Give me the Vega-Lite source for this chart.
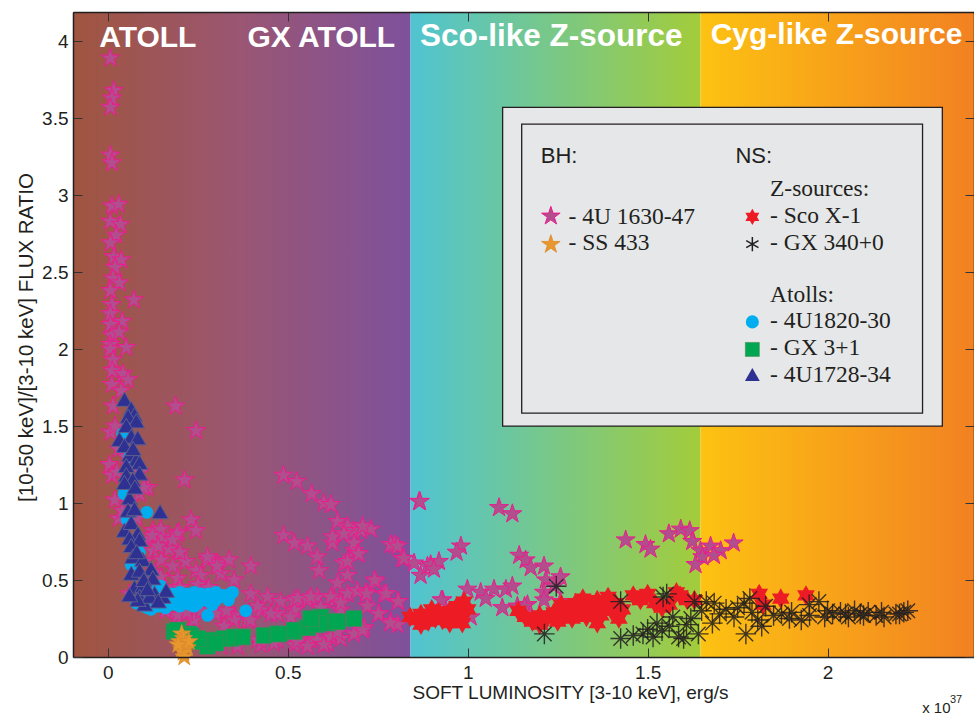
{
 "$schema": "https://vega.github.io/schema/vega-lite/v6.json",
 "width": 901, "height": 645,
 "autosize": "none",
 "padding": {"left": 73, "top": 12, "right": 0, "bottom": 60},
 "background": "white",
 "config": {"view": {"stroke": null}, "font": "Liberation Sans"},
 "datasets": {
  "band1": [{"x": -0.097, "x2": 0.841, "y": 0, "y2": 4.19}],
  "band2": [{"x": 0.841, "x2": 1.647, "y": 0, "y2": 4.19}],
  "band3": [{"x": 1.647, "x2": 2.407, "y": 0, "y2": 4.19}],
  "bandlab": [{"x": 0.111, "y": 3.961, "label": "ATOLL"}, {"x": 0.593, "y": 3.961, "label": "GX ATOLL"}, {"x": 2.025, "y": 3.985, "label": "Cyg-like Z-source"}],
  "bandlab2": [{"x": 1.232, "y": 3.97, "label": "Sco-like Z-source"}],
  "legout": [{"x": 1.097, "x2": 2.319, "y": 1.5, "y2": 3.571}],
  "legin": [{"x": 1.15, "x2": 2.264, "y": 1.584, "y2": 3.461}],
  "legsans": [{"x": 1.203, "y": 3.21, "label": "BH:"}, {"x": 1.744, "y": 3.21, "label": "NS:"}],
  "legserif": [{"x": 1.84, "y": 2.994, "label": "Z-sources:"}, {"x": 1.84, "y": 2.82, "label": "- Sco X-1"}, {"x": 1.84, "y": 2.647, "label": "- GX 340+0"}, {"x": 1.84, "y": 2.307, "label": "Atolls:"}, {"x": 1.84, "y": 2.134, "label": "- 4U1820-30"}, {"x": 1.84, "y": 1.961, "label": "- GX 3+1"}, {"x": 1.84, "y": 1.788, "label": "- 4U1728-34"}, {"x": 1.28, "y": 2.816, "label": "- 4U 1630-47"}, {"x": 1.28, "y": 2.643, "label": "- SS 433"}],
  "leg1630": [{"x": 1.231, "y": 2.864}],
  "leg433": [{"x": 1.231, "y": 2.68}],
  "legsco": [{"x": 1.791, "y": 2.859}],
  "leggx340": [{"x": 1.791, "y": 2.682}],
  "leg1820": [{"x": 1.791, "y": 2.177}],
  "leggx3": [{"x": 1.791, "y": 1.998}],
  "leg1728": [{"x": 1.791, "y": 1.831}],
  "x10": [{"x": 2.263, "y": -0.364, "label": "x 10"}],
  "e37": [{"x": 2.34, "y": -0.299, "label": "37"}],
  "s1630": [
   {"x":0.007,"y":3.89},{"x":0.016,"y":3.68},{"x":0.011,"y":3.63},{"x":0.007,"y":3.57},{"x":0.007,"y":3.26},{"x":0.011,"y":3.21},{"x":0.011,"y":2.93},{"x":0.03,"y":2.94},{"x":0.007,"y":2.83},{"x":0.035,"y":2.81},{"x":0.023,"y":2.74},{"x":0.007,"y":2.69},{"x":0.016,"y":2.6},{"x":0.037,"y":2.58},{"x":0.02,"y":2.53},{"x":0.014,"y":2.46},{"x":0.032,"y":2.43},{"x":0.007,"y":2.38},{"x":0.072,"y":2.32},{"x":0.011,"y":2.29},{"x":0.007,"y":2.23},{"x":0.04,"y":2.18},{"x":0.007,"y":2.16},{"x":0.011,"y":2.09},{"x":0.031,"y":2.11},{"x":0.007,"y":2.03},{"x":0.051,"y":2.01},{"x":0.007,"y":2.0},{"x":0.014,"y":1.93},{"x":0.012,"y":1.86},{"x":0.042,"y":1.84},{"x":0.056,"y":1.8},{"x":0.011,"y":1.77},{"x":0.037,"y":1.73},{"x":0.014,"y":1.63},{"x":0.188,"y":1.63},{"x":0.245,"y":1.47},{"x":0.007,"y":1.46},{"x":0.004,"y":1.25},{"x":0.011,"y":1.18},{"x":0.213,"y":1.15},{"x":0.111,"y":1.1},{"x":0.088,"y":1.06},{"x":0.019,"y":1.02},
   {"x":0.02,"y":1.5},{"x":0.03,"y":1.35},{"x":0.025,"y":1.2},{"x":0.05,"y":1.3},{"x":0.09,"y":1.2},{"x":0.1,"y":1.1},{"x":0.06,"y":1.0},{"x":0.03,"y":0.9},{"x":0.04,"y":0.95},{"x":0.08,"y":0.9},
   {"x":0.231,"y":0.89},{"x":0.245,"y":0.82},{"x":0.197,"y":0.81},{"x":0.125,"y":0.82},{"x":0.153,"y":0.78},{"x":0.111,"y":0.76},{"x":0.125,"y":0.69},{"x":0.148,"y":0.63},{"x":0.217,"y":0.62},{"x":0.18,"y":0.59},{"x":0.245,"y":0.56},{"x":0.13,"y":0.55},{"x":0.06,"y":0.41},{"x":0.19,"y":0.26},{"x":0.236,"y":0.24},{"x":0.147,"y":0.83},{"x":0.124,"y":0.79},{"x":0.192,"y":0.8},{"x":0.277,"y":0.63},{"x":0.304,"y":0.61},{"x":0.337,"y":0.63},{"x":0.397,"y":0.59},{"x":0.258,"y":0.53},{"x":0.314,"y":0.54},{"x":0.351,"y":0.5},{"x":0.194,"y":0.51},{"x":0.147,"y":0.52},{"x":0.277,"y":0.65},{"x":0.304,"y":0.59},
   {"x":0.17,"y":0.7},{"x":0.2,"y":0.68},{"x":0.1,"y":0.62},{"x":0.16,"y":0.45},{"x":0.12,"y":0.47},{"x":0.2,"y":0.45},{"x":0.25,"y":0.47},{"x":0.28,"y":0.45},{"x":0.14,"y":0.72},{"x":0.18,"y":0.76},
   {"x":0.488,"y":1.18},{"x":0.525,"y":1.14},{"x":0.566,"y":1.06},{"x":0.6,"y":1.0},{"x":0.62,"y":0.99},{"x":0.638,"y":0.88},{"x":0.666,"y":0.85},{"x":0.683,"y":0.82},{"x":0.703,"y":0.82},{"x":0.731,"y":0.83},{"x":0.708,"y":0.85},{"x":0.796,"y":0.73},{"x":0.786,"y":0.73},{"x":0.805,"y":0.72},{"x":0.818,"y":0.64},{"x":0.851,"y":0.61},{"x":0.869,"y":0.53},{"x":0.888,"y":0.59},{"x":0.865,"y":1.01},
   {"x":0.488,"y":0.79},{"x":0.518,"y":0.74},{"x":0.555,"y":0.72},{"x":0.582,"y":0.65},{"x":0.587,"y":0.56},{"x":0.624,"y":0.74},{"x":0.656,"y":0.61},{"x":0.666,"y":0.53},{"x":0.684,"y":0.69},{"x":0.624,"y":0.78},{"x":0.656,"y":0.8},{"x":0.684,"y":0.74},{"x":0.693,"y":0.67},{"x":0.666,"y":0.62},{"x":0.638,"y":0.48},{"x":0.697,"y":0.67},
   {"x":0.397,"y":0.41},{"x":0.444,"y":0.39},{"x":0.48,"y":0.36},{"x":0.518,"y":0.37},{"x":0.555,"y":0.37},{"x":0.582,"y":0.39},{"x":0.629,"y":0.37},{"x":0.666,"y":0.41},{"x":0.693,"y":0.43},{"x":0.425,"y":0.305},{"x":0.471,"y":0.28},{"x":0.518,"y":0.305},{"x":0.592,"y":0.32},{"x":0.647,"y":0.305},{"x":0.194,"y":0.27},{"x":0.24,"y":0.24},{"x":0.351,"y":0.27},{"x":0.388,"y":0.24},{"x":0.425,"y":0.08},{"x":0.471,"y":0.11},{"x":0.518,"y":0.08},{"x":0.564,"y":0.11},{"x":0.61,"y":0.09},{"x":0.647,"y":0.12},{"x":0.684,"y":0.15},{"x":0.314,"y":0.07},{"x":0.36,"y":0.07},{"x":0.277,"y":0.1},
   {"x":0.744,"y":0.49},{"x":0.768,"y":0.41},{"x":0.805,"y":0.36},{"x":0.717,"y":0.42},{"x":0.721,"y":0.33},{"x":0.754,"y":0.28},{"x":0.786,"y":0.23},{"x":0.712,"y":0.19},{"x":0.805,"y":0.21},{"x":0.527,"y":0.38},{"x":0.564,"y":0.39},{"x":0.619,"y":0.39},{"x":0.647,"y":0.35},{"x":0.416,"y":0.33},{"x":0.453,"y":0.28},{"x":0.508,"y":0.26},{"x":0.397,"y":0.24},{"x":0.351,"y":0.24},{"x":0.323,"y":0.2},{"x":0.416,"y":0.11},{"x":0.462,"y":0.09},{"x":0.527,"y":0.1},{"x":0.582,"y":0.11},{"x":0.619,"y":0.13},{"x":0.638,"y":0.16},{"x":0.6,"y":0.08},{"x":0.555,"y":0.07},{"x":0.741,"y":0.5},{"x":0.719,"y":0.41},{"x":0.774,"y":0.41},{"x":0.807,"y":0.36},{"x":0.752,"y":0.28},{"x":0.785,"y":0.22},{"x":0.708,"y":0.175},
   {"x":0.3,"y":0.28},{"x":0.26,"y":0.3},{"x":0.33,"y":0.3},{"x":0.22,"y":0.29},{"x":0.16,"y":0.3},
   {"x":0.867,"y":1.01},{"x":1.087,"y":0.97},{"x":1.124,"y":0.93},{"x":0.981,"y":0.72},{"x":0.969,"y":0.68},{"x":0.823,"y":0.64},{"x":0.897,"y":0.6},{"x":0.92,"y":0.62},{"x":0.906,"y":0.57},{"x":1.143,"y":0.66},{"x":1.161,"y":0.63},{"x":1.175,"y":0.58},{"x":1.212,"y":0.59},{"x":1.217,"y":0.5},{"x":1.258,"y":0.52},{"x":1.212,"y":0.42},{"x":1.24,"y":0.46},{"x":0.999,"y":0.44},{"x":1.036,"y":0.42},{"x":1.073,"y":0.44},{"x":1.106,"y":0.44},{"x":1.124,"y":0.46},{"x":1.05,"y":0.38},{"x":0.93,"y":0.37},{"x":1.096,"y":0.32},{"x":1.138,"y":0.33},{"x":1.166,"y":0.34},{"x":1.212,"y":0.37},{"x":1.258,"y":0.36},{"x":1.008,"y":0.26},{"x":0.927,"y":0.37},{"x":1.158,"y":0.33},
   {"x":1.439,"y":0.76},{"x":1.494,"y":0.73},{"x":1.508,"y":0.7},{"x":1.559,"y":0.8},{"x":1.592,"y":0.83},{"x":1.617,"y":0.82},{"x":1.624,"y":0.75},{"x":1.647,"y":0.69},{"x":1.675,"y":0.72},{"x":1.703,"y":0.69},{"x":1.652,"y":0.65},{"x":1.633,"y":0.6},{"x":1.684,"y":0.66},{"x":1.739,"y":0.74}
  ],
  "sSco": [
   {"x":0.84,"y":0.26},{"x":0.86,"y":0.24},{"x":0.87,"y":0.28},{"x":0.88,"y":0.25},{"x":0.89,"y":0.23},{"x":0.9,"y":0.27},{"x":0.91,"y":0.25},{"x":0.92,"y":0.29},{"x":0.93,"y":0.24},{"x":0.94,"y":0.26},{"x":0.95,"y":0.3},{"x":0.96,"y":0.25},{"x":0.97,"y":0.33},{"x":0.98,"y":0.28},{"x":0.99,"y":0.36},{"x":1.0,"y":0.31},{"x":0.985,"y":0.22},{"x":0.95,"y":0.22},{"x":0.87,"y":0.21},{"x":0.9,"y":0.31},
   {"x":1.16,"y":0.26},{"x":1.18,"y":0.23},{"x":1.2,"y":0.27},{"x":1.22,"y":0.25},{"x":1.24,"y":0.29},{"x":1.25,"y":0.23},{"x":1.27,"y":0.27},{"x":1.28,"y":0.31},{"x":1.29,"y":0.25},{"x":1.3,"y":0.35},{"x":1.31,"y":0.29},{"x":1.32,"y":0.38},{"x":1.33,"y":0.26},{"x":1.34,"y":0.33},{"x":1.35,"y":0.3},{"x":1.36,"y":0.37},{"x":1.37,"y":0.27},{"x":1.38,"y":0.33},{"x":1.39,"y":0.39},{"x":1.4,"y":0.3},{"x":1.41,"y":0.35},{"x":1.42,"y":0.25},{"x":1.43,"y":0.31},{"x":1.46,"y":0.4},{"x":1.48,"y":0.37},{"x":1.5,"y":0.41},{"x":1.52,"y":0.35},{"x":1.54,"y":0.32},{"x":1.56,"y":0.34},{"x":1.58,"y":0.42},{"x":1.59,"y":0.4},{"x":1.61,"y":0.37},{"x":1.63,"y":0.37},{"x":1.81,"y":0.41},{"x":1.87,"y":0.38},{"x":1.94,"y":0.4},{"x":1.82,"y":0.34},{"x":1.2,"y":0.21},{"x":1.26,"y":0.34},{"x":1.14,"y":0.3},{"x":1.36,"y":0.22}
  ],
  "sGX340": [
   {"x":1.246,"y":0.46},{"x":1.213,"y":0.15},{"x":1.425,"y":0.36},{"x":1.425,"y":0.12},{"x":1.487,"y":0.15},{"x":1.515,"y":0.13},{"x":1.526,"y":0.22},{"x":1.543,"y":0.39},{"x":1.553,"y":0.41},{"x":1.57,"y":0.26},{"x":1.586,"y":0.13},{"x":1.608,"y":0.21},{"x":1.641,"y":0.15},{"x":1.63,"y":0.36},{"x":1.663,"y":0.36},{"x":1.685,"y":0.35},{"x":1.68,"y":0.22},{"x":1.718,"y":0.31},{"x":1.74,"y":0.26},{"x":1.768,"y":0.35},{"x":1.773,"y":0.15},{"x":1.784,"y":0.38},{"x":1.806,"y":0.24},{"x":1.817,"y":0.2},{"x":1.828,"y":0.33},{"x":1.872,"y":0.28},{"x":1.894,"y":0.25},{"x":1.927,"y":0.24},{"x":1.949,"y":0.34},{"x":1.976,"y":0.36},{"x":1.992,"y":0.26},{"x":2.014,"y":0.28},{"x":2.036,"y":0.29},{"x":2.058,"y":0.26},{"x":2.075,"y":0.3},{"x":2.091,"y":0.28},{"x":2.113,"y":0.29},{"x":2.135,"y":0.27},{"x":2.157,"y":0.26},{"x":2.19,"y":0.28},{"x":2.212,"y":0.29},{"x":2.223,"y":0.3},
   {"x":1.5,"y":0.18},{"x":1.54,"y":0.17},{"x":1.56,"y":0.2},{"x":1.6,"y":0.12},{"x":1.62,"y":0.25},{"x":1.65,"y":0.3},{"x":1.7,"y":0.28},{"x":1.75,"y":0.32},{"x":1.79,"y":0.29},{"x":1.85,"y":0.27},{"x":1.9,"y":0.29},{"x":1.95,"y":0.27},{"x":2.0,"y":0.3},{"x":2.05,"y":0.28},{"x":2.1,"y":0.27},{"x":2.15,"y":0.29},{"x":2.2,"y":0.28},{"x":1.46,"y":0.14}
  ],
  "s1820": [
   {"x":0.041,"y":1.45},{"x":0.045,"y":1.06},{"x":0.054,"y":0.89},{"x":0.087,"y":0.68},{"x":0.108,"y":0.94},{"x":0.277,"y":0.27},{"x":0.383,"y":0.3},{"x":0.11,"y":0.32},{"x":0.147,"y":0.46},{"x":0.346,"y":0.42},
   {"x":0.08,"y":0.35},{"x":0.1,"y":0.33},{"x":0.12,"y":0.34},{"x":0.13,"y":0.37},{"x":0.14,"y":0.33},{"x":0.15,"y":0.36},{"x":0.16,"y":0.39},{"x":0.17,"y":0.34},{"x":0.18,"y":0.37},{"x":0.19,"y":0.34},{"x":0.2,"y":0.38},{"x":0.21,"y":0.35},{"x":0.22,"y":0.37},{"x":0.23,"y":0.34},{"x":0.24,"y":0.38},{"x":0.25,"y":0.35},{"x":0.26,"y":0.37},{"x":0.27,"y":0.39},{"x":0.28,"y":0.36},{"x":0.29,"y":0.38},{"x":0.3,"y":0.37},{"x":0.31,"y":0.39},{"x":0.32,"y":0.4},{"x":0.33,"y":0.39},{"x":0.34,"y":0.41},{"x":0.335,"y":0.37},{"x":0.18,"y":0.41},{"x":0.22,"y":0.41},{"x":0.26,"y":0.41},{"x":0.06,"y":1.3},{"x":0.065,"y":0.6},
   {"x":0.13,"y":0.43},{"x":0.15,"y":0.42},{"x":0.2,"y":0.42},{"x":0.24,"y":0.42},{"x":0.28,"y":0.41},{"x":0.3,"y":0.42},{"x":0.12,"y":0.31},{"x":0.16,"y":0.32},{"x":0.2,"y":0.33},{"x":0.24,"y":0.33},{"x":0.29,"y":0.34},{"x":0.095,"y":0.37},{"x":0.11,"y":0.4}
  ],
  "sGX3": [
   {"x":0.184,"y":0.165},{"x":0.193,"y":0.175},{"x":0.226,"y":0.15},{"x":0.231,"y":0.14},{"x":0.258,"y":0.1},{"x":0.286,"y":0.11},{"x":0.323,"y":0.12},{"x":0.342,"y":0.12},{"x":0.351,"y":0.13},{"x":0.374,"y":0.13},{"x":0.434,"y":0.14},{"x":0.471,"y":0.15},{"x":0.476,"y":0.15},{"x":0.518,"y":0.165},{"x":0.518,"y":0.175},{"x":0.555,"y":0.19},{"x":0.564,"y":0.24},{"x":0.578,"y":0.21},{"x":0.592,"y":0.26},{"x":0.61,"y":0.22},{"x":0.629,"y":0.23},{"x":0.638,"y":0.23},{"x":0.684,"y":0.25},{"x":0.564,"y":0.25},{"x":0.277,"y":0.07},{"x":0.3,"y":0.09},{"x":0.25,"y":0.12}
  ],
  "s1728": [
   {"x":0.046,"y":1.67},{"x":0.065,"y":1.61},{"x":0.074,"y":1.57},{"x":0.056,"y":1.56},{"x":0.079,"y":1.53},{"x":0.051,"y":1.5},{"x":0.032,"y":1.41},{"x":0.065,"y":1.43},{"x":0.083,"y":1.42},{"x":0.046,"y":1.37},{"x":0.06,"y":1.31},{"x":0.079,"y":1.28},{"x":0.088,"y":1.26},{"x":0.051,"y":1.24},{"x":0.051,"y":1.18},{"x":0.088,"y":1.19},{"x":0.069,"y":1.15},{"x":0.046,"y":1.13},{"x":0.06,"y":1.03},{"x":0.056,"y":0.95},{"x":0.074,"y":0.96},{"x":0.145,"y":0.94},{"x":0.046,"y":0.82},{"x":0.065,"y":0.87},{"x":0.083,"y":0.8},{"x":0.06,"y":0.77},{"x":0.088,"y":0.76},{"x":0.065,"y":0.72},{"x":0.069,"y":0.65},{"x":0.097,"y":0.63},{"x":0.065,"y":0.54},{"x":0.12,"y":0.57},{"x":0.088,"y":0.56},{"x":0.125,"y":0.51},{"x":0.074,"y":0.45},{"x":0.097,"y":0.46},{"x":0.13,"y":0.41},{"x":0.153,"y":0.39},{"x":0.162,"y":0.43},{"x":0.088,"y":0.39},{"x":0.102,"y":0.34},{"x":0.116,"y":0.39},{"x":0.083,"y":0.37},{"x":0.06,"y":0.4},{"x":0.07,"y":1.35},{"x":0.075,"y":1.1},{"x":0.08,"y":0.68},{"x":0.1,"y":0.5},{"x":0.11,"y":0.44},{"x":0.14,"y":0.36}
  ],
  "s433": [
   {"x":0.205,"y":0.15},{"x":0.21,"y":0.12},{"x":0.2,"y":0.1},{"x":0.215,"y":0.08},{"x":0.22,"y":0.06},{"x":0.205,"y":0.05},{"x":0.21,"y":0.03},{"x":0.225,"y":0.1},{"x":0.195,"y":0.08},{"x":0.212,"y":0.0}
  ]
 },
 "encoding": {
  "x": {"field": "x", "type": "quantitative", "scale": {"domain": [-0.097, 2.407], "nice": false, "zero": false}, "axis": null},
  "y": {"field": "y", "type": "quantitative", "scale": {"domain": [0, 4.19], "nice": false, "zero": false}, "axis": null}
 },
 "layer": [
  {"data": {"name": "band1"},
   "mark": {"type": "rect", "fill": {"gradient": "linear", "x1": 0, "y1": 0, "x2": 1, "y2": 0, "stops": [{"offset": 0, "color": "#a0553f"}, {"offset": 0.5, "color": "#9a5673"}, {"offset": 1, "color": "#7e519c"}]}},
   "encoding": {
    "x": {"field": "x", "type": "quantitative", "scale": {"domain": [-0.097, 2.407], "nice": false, "zero": false},
      "axis": {"orient": "bottom", "values": [0, 0.5, 1, 1.5, 2], "format": "~g", "tickSize": -9, "tickColor": "#333333", "labelPadding": 15, "labelFontSize": 19, "labelColor": "#231f20", "labelFont": "Liberation Sans", "labelFlush": false, "domainColor": "#231f20", "domainWidth": 1.5, "grid": false, "zindex": 1,
        "title": "SOFT LUMINOSITY [3-10 keV], erg/s", "titleFont": "Liberation Sans", "titleFontSize": 19, "titleFontWeight": "normal", "titleColor": "#231f20", "titleX": 497, "titleY": 41, "titleAlign": "center", "titleBaseline": "alphabetic"}},
    "x2": {"field": "x2"},
    "y": {"field": "y", "type": "quantitative", "scale": {"domain": [0, 4.19], "nice": false, "zero": false},
      "axis": {"orient": "left", "values": [0, 0.5, 1, 1.5, 2, 2.5, 3, 3.5, 4], "format": "~g", "tickSize": -9, "tickColor": "#333333", "labelPadding": 14, "labelFontSize": 19, "labelColor": "#231f20", "labelFont": "Liberation Sans", "labelFlush": false, "domainColor": "#231f20", "domainWidth": 1.5, "grid": false, "zindex": 1,
        "title": "[10-50 keV]/[3-10 keV] FLUX RATIO", "titleFont": "Liberation Sans", "titleFontSize": 20.5, "titleFontWeight": "normal", "titleColor": "#231f20", "titleAngle": -90, "titleX": -41, "titleY": 325, "titleAlign": "center", "titleBaseline": "alphabetic"}},
    "y2": {"field": "y2"}
   }},
  {"data": {"name": "band2"},
   "mark": {"type": "rect", "fill": {"gradient": "linear", "x1": 0, "y1": 0, "x2": 1, "y2": 0, "stops": [{"offset": 0, "color": "#50c4d2"}, {"offset": 1, "color": "#a3cc3a"}]}},
   "encoding": {
    "x": {"field": "x", "type": "quantitative", "scale": {"domain": [-0.097, 2.407], "nice": false, "zero": false},
      "axis": {"orient": "top", "values": [0, 0.5, 1, 1.5, 2], "labels": false, "tickSize": -9, "tickColor": "#333333", "domainColor": "#231f20", "domainWidth": 1.5, "grid": false, "zindex": 1, "title": null}},
    "x2": {"field": "x2"},
    "y": {"field": "y", "type": "quantitative", "scale": {"domain": [0, 4.19], "nice": false, "zero": false},
      "axis": {"orient": "right", "values": [0, 0.5, 1, 1.5, 2, 2.5, 3, 3.5, 4], "labels": false, "tickSize": -9, "tickColor": "#333333", "domainColor": "#231f20", "domainWidth": 1.5, "grid": false, "zindex": 1, "title": null}},
    "y2": {"field": "y2"}
   }},
  {"data": {"name": "band3"},
   "mark": {"type": "rect", "fill": {"gradient": "linear", "x1": 0, "y1": 0, "x2": 1, "y2": 0, "stops": [{"offset": 0, "color": "#fdc212"}, {"offset": 1, "color": "#f28122"}]}},
   "encoding": {"x2": {"field": "x2"}, "y2": {"field": "y2"}}},
  {"data": {"name": "s1630"},
   "mark": {"type": "point", "shape": "M0,-1L0.2245,-0.309L0.951,-0.309L0.363,0.118L0.588,0.809L0,0.382L-0.588,0.809L-0.363,0.118L-0.951,-0.309L-0.2245,-0.309Z", "filled": true, "fill": "#b04e8e", "stroke": "#ec1c8c", "strokeWidth": 1, "size": 400, "opacity": 1}},
  {"data": {"name": "sSco"},
   "mark": {"type": "point", "shape": "M0,-1L0.289,-0.5L0.866,-0.5L0.577,0L0.866,0.5L0.289,0.5L0,1L-0.289,0.5L-0.866,0.5L-0.577,0L-0.866,-0.5L-0.289,-0.5Z", "filled": true, "fill": "#ed1c24", "strokeWidth": 0, "size": 420, "opacity": 1}},
  {"data": {"name": "sGX340"},
   "mark": {"type": "point", "shape": "M0,-1L0,1M-1,0L1,0M-0.707,-0.707L0.707,0.707M-0.707,0.707L0.707,-0.707", "filled": false, "stroke": "#231f20", "strokeWidth": 1.4, "size": 420, "opacity": 0.85}},
  {"data": {"name": "s1820"},
   "mark": {"type": "point", "shape": "circle", "filled": true, "fill": "#00aeef", "strokeWidth": 0, "size": 165, "opacity": 1}},
  {"data": {"name": "s1728"},
   "mark": {"type": "point", "shape": "M0,-0.95L1,0.78L-1,0.78Z", "filled": true, "fill": "#2e3192", "stroke": "#5b5e8e", "strokeWidth": 1, "size": 270, "opacity": 1}},
  {"data": {"name": "sGX3"},
   "mark": {"type": "point", "shape": "square", "filled": true, "fill": "#00a651", "stroke": "#3f8f5a", "strokeWidth": 0.6, "size": 250, "opacity": 1}},
  {"data": {"name": "s433"},
   "mark": {"type": "point", "shape": "M0,-1L0.2245,-0.309L0.951,-0.309L0.363,0.118L0.588,0.809L0,0.382L-0.588,0.809L-0.363,0.118L-0.951,-0.309L-0.2245,-0.309Z", "filled": true, "fill": "#e8972e", "stroke": "#d98a2a", "strokeWidth": 0.8, "size": 360, "opacity": 1}},
  {"data": {"name": "bandlab"},
   "mark": {"type": "text", "font": "Liberation Sans", "fontSize": 30, "fontWeight": "bold", "color": "#ffffff", "align": "center", "baseline": "alphabetic"},
   "encoding": {"text": {"field": "label"}}},
  {"data": {"name": "bandlab2"},
   "mark": {"type": "text", "font": "Liberation Sans", "fontSize": 31.5, "fontWeight": "bold", "color": "#ffffff", "align": "center", "baseline": "alphabetic"},
   "encoding": {"text": {"field": "label"}}},
  {"data": {"name": "legout"},
   "mark": {"type": "rect", "fill": "#e6e7e8", "stroke": "#231f20", "strokeWidth": 1.3},
   "encoding": {"x2": {"field": "x2"}, "y2": {"field": "y2"}}},
  {"data": {"name": "legin"},
   "mark": {"type": "rect", "fill": "#e6e7e8", "fillOpacity": 0, "stroke": "#231f20", "strokeWidth": 1.3},
   "encoding": {"x2": {"field": "x2"}, "y2": {"field": "y2"}}},
  {"data": {"name": "legsans"},
   "mark": {"type": "text", "font": "Liberation Sans", "fontSize": 22, "color": "#231f20", "align": "left", "baseline": "alphabetic"},
   "encoding": {"text": {"field": "label"}}},
  {"data": {"name": "legserif"},
   "mark": {"type": "text", "font": "Liberation Serif", "fontSize": 23.5, "color": "#231f20", "align": "left", "baseline": "alphabetic"},
   "encoding": {"text": {"field": "label"}}},
  {"data": {"name": "leg1630"},
   "mark": {"type": "point", "shape": "M0,-1L0.2245,-0.309L0.951,-0.309L0.363,0.118L0.588,0.809L0,0.382L-0.588,0.809L-0.363,0.118L-0.951,-0.309L-0.2245,-0.309Z", "filled": true, "fill": "#b04e8e", "stroke": "#ec1c8c", "strokeWidth": 1, "size": 380, "opacity": 1}},
  {"data": {"name": "leg433"},
   "mark": {"type": "point", "shape": "M0,-1L0.2245,-0.309L0.951,-0.309L0.363,0.118L0.588,0.809L0,0.382L-0.588,0.809L-0.363,0.118L-0.951,-0.309L-0.2245,-0.309Z", "filled": true, "fill": "#e8972e", "stroke": "#d98a2a", "strokeWidth": 0.8, "size": 380, "opacity": 1}},
  {"data": {"name": "legsco"},
   "mark": {"type": "point", "shape": "M0,-1L0.289,-0.5L0.866,-0.5L0.577,0L0.866,0.5L0.289,0.5L0,1L-0.289,0.5L-0.866,0.5L-0.577,0L-0.866,-0.5L-0.289,-0.5Z", "filled": true, "fill": "#ed1c24", "strokeWidth": 0, "size": 260, "opacity": 1}},
  {"data": {"name": "leggx340"},
   "mark": {"type": "point", "shape": "M0,-1L0,1M-0.866,-0.5L0.866,0.5M-0.866,0.5L0.866,-0.5", "filled": false, "stroke": "#231f20", "strokeWidth": 1.5, "size": 200, "opacity": 1}},
  {"data": {"name": "leg1820"},
   "mark": {"type": "point", "shape": "circle", "filled": true, "fill": "#00aeef", "strokeWidth": 0, "size": 170, "opacity": 1}},
  {"data": {"name": "leggx3"},
   "mark": {"type": "point", "shape": "square", "filled": true, "fill": "#00a651", "stroke": "#3f8f5a", "strokeWidth": 0.6, "size": 196, "opacity": 1}},
  {"data": {"name": "leg1728"},
   "mark": {"type": "point", "shape": "M0,-0.95L1,0.78L-1,0.78Z", "filled": true, "fill": "#2e3192", "strokeWidth": 0, "size": 220, "opacity": 1}},
  {"data": {"name": "x10"},
   "mark": {"type": "text", "font": "Liberation Sans", "fontSize": 15, "color": "#231f20", "align": "left", "baseline": "alphabetic"},
   "encoding": {"text": {"field": "label"}}},
  {"data": {"name": "e37"},
   "mark": {"type": "text", "font": "Liberation Sans", "fontSize": 11, "color": "#231f20", "align": "left", "baseline": "alphabetic"},
   "encoding": {"text": {"field": "label"}}}
 ]
}
